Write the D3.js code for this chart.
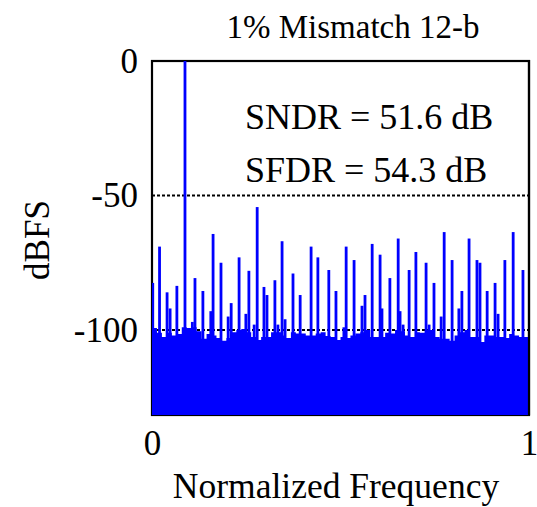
<!DOCTYPE html>
<html>
<head>
<meta charset="utf-8">
<script src="https://cdn.jsdelivr.net/npm/d3@7"></script>
<style>
  html, body { margin: 0; padding: 0; background: #fff; }
  svg { display: block; }
</style>
</head>
<body>
<svg id="chart" width="537" height="507"></svg>
<script>
// ---- data ----
const titleText = "1% Mismatch 12-b";
const xLabel = "Normalized Frequency";
const yLabel = "dBFS";
const xTicks = [0, 1];
const yTicks = [0, -50, -100];
const gridLevels = [-50, -100];
const annotations = ["SNDR = 51.6 dB", "SFDR = 54.3 dB"];

// tone and spurs: normalized frequency and level (dBFS)
const spurFreq = [0.002, 0.020, 0.040, 0.048, 0.066, 0.0875, 0.107, 0.114, 0.135, 0.156, 0.162,
  0.183, 0.202, 0.210, 0.231, 0.249, 0.257, 0.271, 0.279, 0.297, 0.305, 0.326, 0.334, 0.345,
  0.353, 0.374, 0.393, 0.422, 0.440, 0.469, 0.488, 0.509, 0.515, 0.536, 0.557, 0.565, 0.584,
  0.605, 0.610, 0.631, 0.653, 0.658, 0.666, 0.682, 0.700, 0.727, 0.735, 0.748, 0.767, 0.775,
  0.796, 0.814, 0.822, 0.841, 0.862, 0.870, 0.889, 0.910, 0.918, 0.936, 0.958, 0.984];
const spurDb = [-82.5, -69, -86, -92, -83.6, 0, -97, -80.7, -85.5, -93, -64.3,
  -75, -95, -90, -73, -94, -78, -98, -54.3, -84, -87, -81.5, -98, -67,
  -96, -79, -87, -69, -73, -77.7, -85.5, -99, -69, -74, -91, -87, -68,
  -72, -92, -80.7, -66, -93, -98, -77.7, -71, -75, -98, -82.5, -95, -63.6,
  -74, -92, -85.5, -66, -74, -75, -85.5, -82.5, -94, -74, -63.6, -77.7];

// noise floor level per frequency bin (76 equal bins over 0..1)
const noiseDb = [-99.3, -101, -102.6, -101, -102, -101.5, -99, -99.3, -99, -100.5,
  -103.3, -101.5, -102, -103, -104, -103, -100.8, -100, -99.6, -100.8,
  -102.6, -103.7, -102.6, -102.6, -100.8, -100.8, -102, -103, -100.8, -101.3,
  -101.3, -102, -102, -101.3, -100.8, -102.2, -102.6, -103.7, -102.6, -103,
  -102, -101.3, -100.8, -100, -102.6, -102.6, -102.6, -101, -101.3, -100,
  -100.5, -102, -102.6, -100.8, -101, -100, -100, -102.6, -103.3, -103.3,
  -104, -102, -100.8, -100, -102.6, -102.6, -104.5, -102, -102, -102.6,
  -102.6, -103, -101.5, -102, -102.6, -102.6];

// ---- drawing ----
const FONT = "Liberation Serif";
const svg = d3.select("#chart");
const M = { left: 152, right: 529, top: 61, bottom: 415 };
const x = d3.scaleLinear().domain([0, 1]).range([M.left, M.right]);
const y = d3.scaleLinear().domain([-131.6, 0]).range([M.bottom, M.top]);
const blue = "#0000ff";

svg.append("defs").append("clipPath").attr("id", "plotclip")
  .append("rect").attr("x", M.left).attr("y", M.top - 1)
  .attr("width", M.right - M.left).attr("height", M.bottom - M.top + 1);

// frame
svg.append("rect").attr("x", M.left).attr("y", M.top)
  .attr("width", M.right - M.left).attr("height", M.bottom - M.top)
  .attr("fill", "none").attr("stroke", "#000").attr("stroke-width", 2.2);

// grid
svg.append("g").selectAll("line").data(gridLevels).join("line")
  .attr("x1", M.left).attr("x2", M.right)
  .attr("y1", d => y(d)).attr("y2", d => y(d))
  .attr("stroke", "#000").attr("stroke-width", 2).attr("stroke-dasharray", "3,2");

const plot = svg.append("g").attr("clip-path", "url(#plotclip)");

// noise floor
const binW = 1 / noiseDb.length;
const floorPts = noiseDb.map((d, i) => [i * binW, d]);
floorPts.push([1, noiseDb[noiseDb.length - 1]]);
const area = d3.area()
  .x(d => x(d[0])).y0(y(-131.6)).y1(d => y(d[1]))
  .curve(d3.curveStepAfter);
plot.append("path").datum(floorPts).attr("d", area).attr("fill", blue);

// spurs / tone
plot.append("g").selectAll("rect").data(spurFreq.map((f, i) => ({ f, db: spurDb[i] }))).join("rect")
  .attr("x", d => x(d.f) - 1.4).attr("width", 2.8)
  .attr("y", d => y(d.db)).attr("height", d => y(-131.6) - y(d.db))
  .attr("fill", blue);

// right frame edge stays visible
svg.append("line").attr("x1", M.right).attr("x2", M.right).attr("y1", M.top - 1).attr("y2", M.bottom)
  .attr("stroke", "#000").attr("stroke-width", 2.2);

// axes
const fontSize = 35;
const yAxis = svg.append("g").attr("transform", `translate(${M.left},0)`)
  .call(d3.axisLeft(y).tickValues(yTicks).tickSize(0).tickPadding(14).tickFormat(d => String(d)));
yAxis.select(".domain").remove();
yAxis.attr("font-family", FONT).attr("font-size", fontSize);
yAxis.selectAll("text").attr("fill", "#000");

const xAxis = svg.append("g").attr("transform", `translate(0,${M.bottom})`)
  .call(d3.axisBottom(x).tickValues(xTicks).tickSize(0).tickPadding(15).tickFormat(d => String(d)));
xAxis.select(".domain").remove();
xAxis.attr("font-family", FONT).attr("font-size", fontSize);
xAxis.selectAll("text").attr("fill", "#000");

// labels
svg.append("text").attr("x", 353).attr("y", 38).attr("text-anchor", "middle")
  .attr("font-family", FONT).attr("font-size", 33).text(titleText);
svg.append("text").attr("x", 336).attr("y", 498).attr("text-anchor", "middle")
  .attr("font-family", FONT).attr("font-size", 35.5).text(xLabel);
svg.append("text").attr("transform", "translate(49,240) rotate(-90)").attr("text-anchor", "middle")
  .attr("font-family", FONT).attr("font-size", fontSize).text(yLabel);

svg.append("g").selectAll("text").data(annotations).join("text")
  .attr("x", 245).attr("y", (d, i) => 129 + i * 53)
  .attr("font-family", FONT).attr("font-size", 36).text(d => d);
</script>
</body>
</html>
